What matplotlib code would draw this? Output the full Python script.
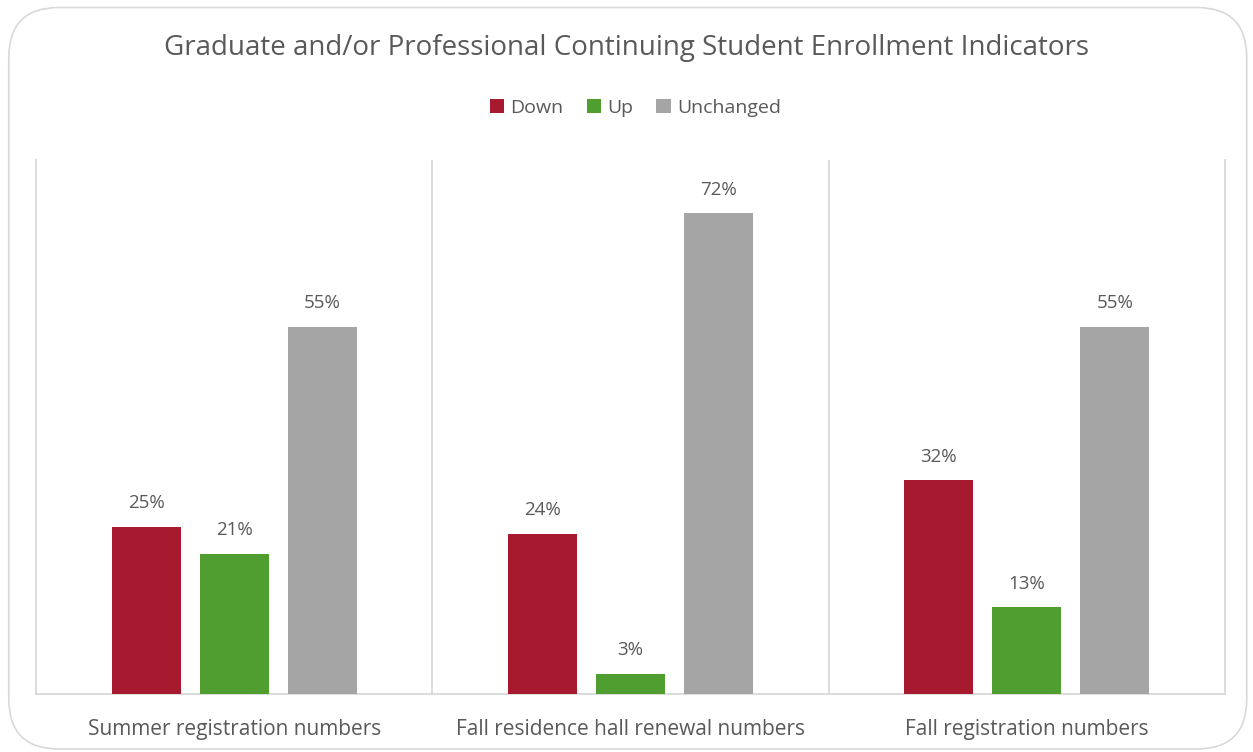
import matplotlib.pyplot as plt
import numpy as np
from matplotlib.patches import FancyBboxPatch

plt.rcParams['font.family'] = ['Open Sans', 'DejaVu Sans']

categories = ["Summer registration numbers", "Fall residence hall renewal numbers", "Fall registration numbers"]
series_names = ["Down", "Up", "Unchanged"]
down = [25, 24, 32]
up = [21, 3, 13]
unchanged = [55, 72, 55]
colors = ["#A6192E", "#509E2F", "#A5A5A5"]

text_col = "#595959"
grid_col = "#D9D9D9"

fig = plt.figure(figsize=(12.53, 7.52), dpi=100)

# rounded chart border, kept behind the axes
border = FancyBboxPatch((0.007, 0.004), 0.988, 0.986, boxstyle="round,pad=0,rounding_size=0.04",
                        transform=fig.transFigure, facecolor="none", edgecolor=grid_col,
                        linewidth=1.2, mutation_aspect=1253/752, zorder=-1)
fig.patches.append(border)

ax = fig.add_axes([0.0287, 0.0771, 0.949, 0.710])
ax.set_facecolor("none")

x = np.arange(len(categories))
offset = 0.222
width = 0.174
for i, (vals, name, c) in enumerate(zip([down, up, unchanged], series_names, colors)):
    pos = x + (i - 1) * offset
    ax.bar(pos, vals, width=width, color=c, label=name, zorder=3)
    for p, v in zip(pos, vals):
        ax.text(p, v + 2.2, f"{v}%", ha="center", va="bottom", fontsize=13.5, color=text_col)

ax.set_xlim(-0.5, 2.5)
ax.set_ylim(0, 80)
ax.set_yticks([])
ax.set_xticks(x)
ax.set_xticklabels(categories, fontsize=15, color=text_col)
ax.tick_params(axis="x", length=0, pad=18)

# separators between categories
for b in [0.5, 1.5]:
    ax.axvline(b, color=grid_col, linewidth=1.3, zorder=1)
for s in ["left", "right", "bottom"]:
    ax.spines[s].set_color(grid_col)
    ax.spines[s].set_linewidth(1.3)
ax.spines["top"].set_visible(False)

fig.text(0.5, 0.936, "Graduate and/or Professional Continuing Student Enrollment Indicators",
         ha="center", va="center", fontsize=20, color=text_col)

fig.legend(loc="center", bbox_to_anchor=(0.507, 0.857), ncol=3, frameon=False,
           fontsize=14, labelcolor=text_col, handlelength=0.75, handleheight=0.75,
           handletextpad=0.3, columnspacing=1.2)

fig.savefig("out.png", dpi=100)
